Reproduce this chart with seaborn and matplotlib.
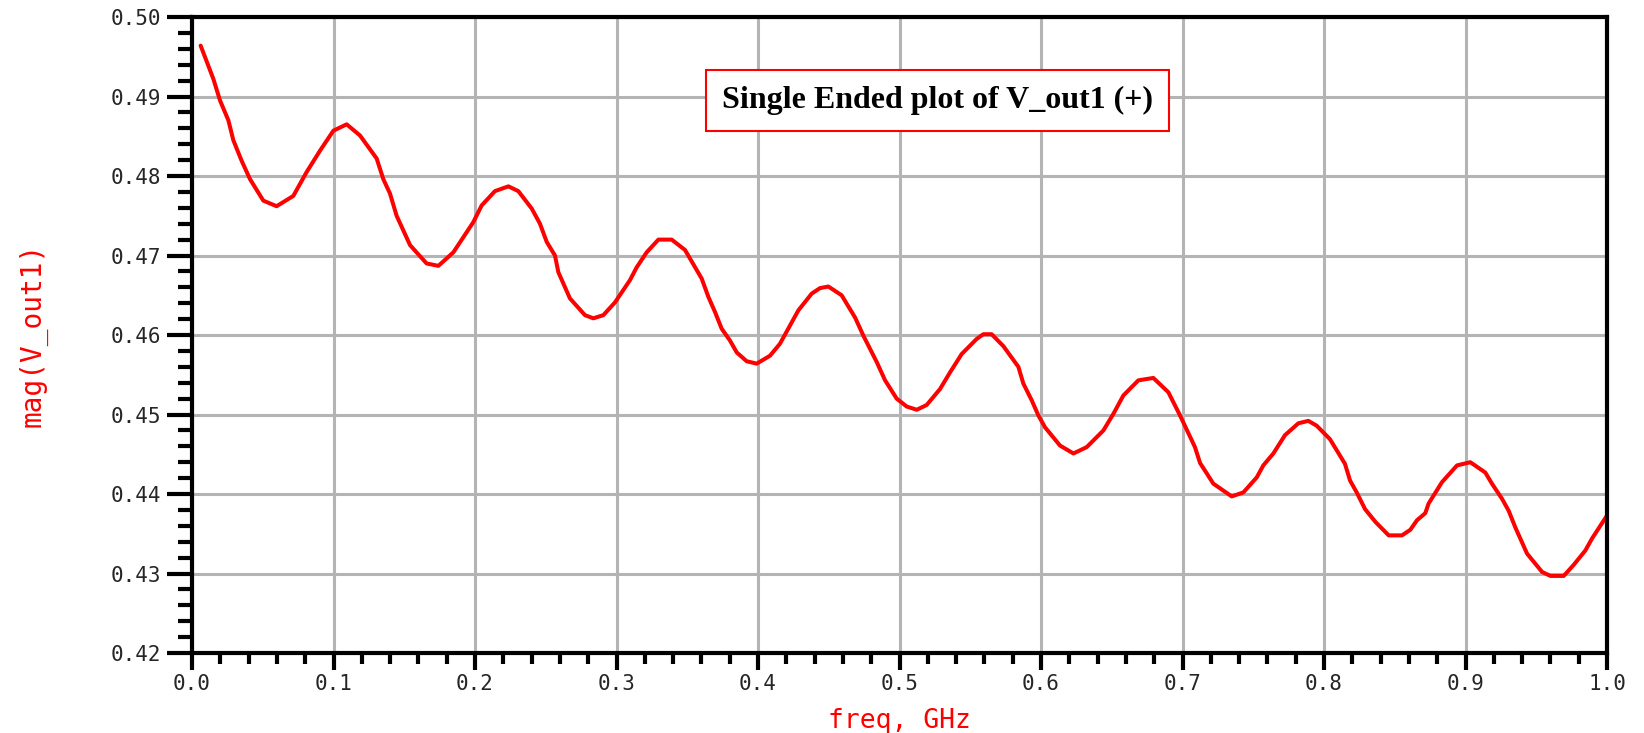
import matplotlib
matplotlib.use("Agg")
import matplotlib.pyplot as plt
from matplotlib.ticker import MultipleLocator, FormatStrFormatter
import seaborn as sns
import pandas as pd

# ---- data ----
freq_ghz = [0.0061, 0.0151, 0.0198, 0.0257, 0.0292, 0.0351, 0.0410, 0.0504, 0.0598, 0.0716,
            0.0810, 0.0905, 0.0999, 0.1093, 0.1187, 0.1305, 0.1352, 0.1399, 0.1446, 0.1541,
            0.1658, 0.1741, 0.1847, 0.1988, 0.2047, 0.2141, 0.2236, 0.2306, 0.2401, 0.2459,
            0.2507, 0.2565, 0.2589, 0.2671, 0.2777, 0.2836, 0.2907, 0.2989, 0.3095, 0.3142,
            0.3213, 0.3296, 0.3390, 0.3484, 0.3602, 0.3649, 0.3696, 0.3743, 0.3802, 0.3850,
            0.3920, 0.3991, 0.4085, 0.4155, 0.4226, 0.4285, 0.4379, 0.4438, 0.4497, 0.4591,
            0.4686, 0.4745, 0.4839, 0.4898, 0.4980, 0.5051, 0.5122, 0.5192, 0.5286, 0.5357,
            0.5439, 0.5545, 0.5592, 0.5651, 0.5734, 0.5840, 0.5875, 0.5934, 0.5981, 0.6028,
            0.6134, 0.6229, 0.6323, 0.6441, 0.6512, 0.6582, 0.6688, 0.6794, 0.6900, 0.6982,
            0.7088, 0.7124, 0.7218, 0.7348, 0.7430, 0.7525, 0.7571, 0.7642, 0.7724, 0.7819,
            0.7889, 0.7948, 0.8042, 0.8148, 0.8184, 0.8231, 0.8290, 0.8363, 0.8457, 0.8551,
            0.8610, 0.8657, 0.8716, 0.8739, 0.8834, 0.8940, 0.9034, 0.9140, 0.9187, 0.9258,
            0.9305, 0.9352, 0.9435, 0.9541, 0.9600, 0.9694, 0.9765, 0.9847, 0.9894, 1.0000]
mag_v_out1 = [0.4964, 0.4922, 0.4895, 0.4870, 0.4845, 0.4819, 0.4796, 0.4769, 0.4762, 0.4775,
              0.4805, 0.4832, 0.4857, 0.4865, 0.4851, 0.4822, 0.4796, 0.4778, 0.4750, 0.4713,
              0.4690, 0.4687, 0.4704, 0.4742, 0.4763, 0.4781, 0.4787, 0.4781, 0.4759, 0.4740,
              0.4717, 0.4700, 0.4679, 0.4646, 0.4625, 0.4621, 0.4625, 0.4641, 0.4669, 0.4685,
              0.4704, 0.4720, 0.4720, 0.4707, 0.4671, 0.4648, 0.4629, 0.4608, 0.4593, 0.4578,
              0.4567, 0.4564, 0.4574, 0.4589, 0.4612, 0.4631, 0.4652, 0.4659, 0.4661, 0.4650,
              0.4622, 0.4599, 0.4566, 0.4543, 0.4520, 0.4510, 0.4506, 0.4512, 0.4532, 0.4553,
              0.4576, 0.4595, 0.4601, 0.4601, 0.4586, 0.4560, 0.4539, 0.4518, 0.4499, 0.4484,
              0.4461, 0.4451, 0.4459, 0.4480, 0.4501, 0.4524, 0.4543, 0.4546, 0.4528, 0.4499,
              0.4459, 0.4439, 0.4413, 0.4397, 0.4402, 0.4421, 0.4436, 0.4451, 0.4474, 0.4489,
              0.4492, 0.4486, 0.4469, 0.4438, 0.4417, 0.4402, 0.4381, 0.4365, 0.4348, 0.4348,
              0.4355, 0.4367, 0.4376, 0.4388, 0.4415, 0.4436, 0.4440, 0.4427, 0.4413, 0.4394,
              0.4379, 0.4358, 0.4325, 0.4302, 0.4297, 0.4297, 0.4311, 0.4329, 0.4344, 0.4373]

title_text = "Single Ended plot of V_out1 (+)"
x_label = "freq, GHz"
y_label = "mag(V_out1)"

df = pd.DataFrame({"freq": freq_ghz, "mag": mag_v_out1})

sns.set_style("white")
plt.rcParams["font.family"] = ["DejaVu Sans Mono", "DejaVu Sans"]

fig = plt.figure(figsize=(16.44, 7.33), dpi=100)
ax = fig.add_axes([0.1168, 0.1091, 0.8607, 0.8677])

sns.lineplot(data=df, x="freq", y="mag", ax=ax, color="#ff0000", linewidth=2.9,
             zorder=3, legend=False)

ax.set_xlim(0.0, 1.0)
ax.set_ylim(0.42, 0.50)
ax.xaxis.set_major_locator(MultipleLocator(0.1))
ax.xaxis.set_minor_locator(MultipleLocator(0.02))
ax.yaxis.set_major_locator(MultipleLocator(0.01))
ax.yaxis.set_minor_locator(MultipleLocator(0.002))
ax.xaxis.set_major_formatter(FormatStrFormatter("%.1f"))
ax.yaxis.set_major_formatter(FormatStrFormatter("%.2f"))

ax.grid(True, which="major", color="#b4b4b4", linewidth=2.2, zorder=1)
ax.set_axisbelow(True)

for s in ax.spines.values():
    s.set_visible(True)
    s.set_color("black")
    s.set_linewidth(3.0)
    s.set_zorder(4)

ax.tick_params(axis="y", which="major", direction="out", length=18, width=3.0,
               color="black", labelsize=15, pad=4, left=True)
ax.tick_params(axis="y", which="minor", direction="out", length=10, width=3.0,
               color="black", left=True)
ax.tick_params(axis="x", which="major", direction="out", length=12, width=3.0,
               color="black", labelsize=15, pad=3, bottom=True)
ax.tick_params(axis="x", which="minor", direction="out", length=8, width=3.0,
               color="black", bottom=True)

ax.set_xlabel(x_label, color="#ff0000", fontsize=19, labelpad=10)
ax.set_ylabel(y_label, color="#ff0000", fontsize=20, labelpad=46)

ax.text(0.527, 0.869, title_text, transform=ax.transAxes, ha="center", va="center",
        fontsize=23, fontweight="bold", family=["Liberation Serif", "DejaVu Serif"],
        color="black", zorder=5,
        bbox=dict(boxstyle="square,pad=0.5", facecolor="white", edgecolor="#ff0000",
                  linewidth=1.5))

fig.savefig("out.png", dpi=100, facecolor="white")
